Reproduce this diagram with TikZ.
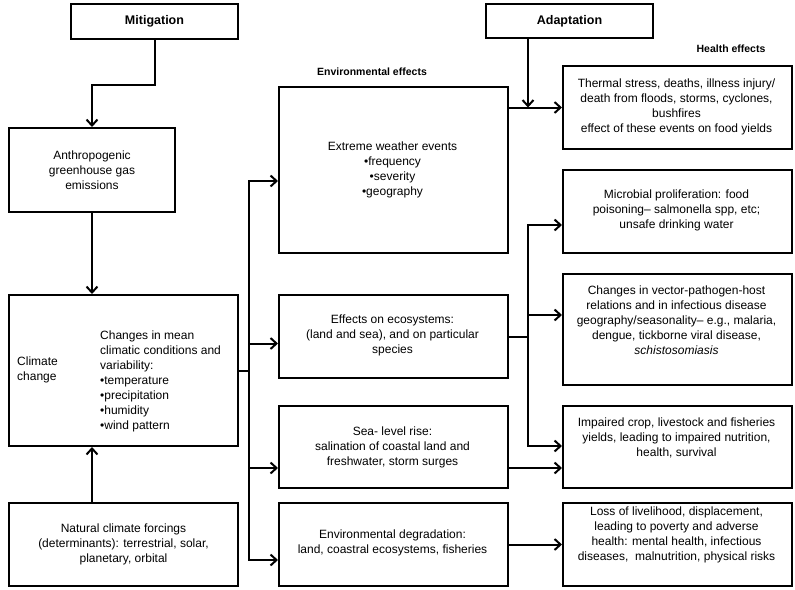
\documentclass[tikz,border=0pt]{standalone}
\usepackage{fontspec}
\setmainfont{Liberation Sans}
\usetikzlibrary{arrows.meta,calc}
\begin{document}
\begin{tikzpicture}[x=1pt,y=-1pt,
  box/.style={draw,line width=2pt,inner sep=0pt,anchor=north west},
  txt/.style={align=center,font=\fontsize{12}{15}\selectfont,inner sep=0pt},
  ltxt/.style={align=left,font=\fontsize{12}{15}\selectfont,inner sep=0pt,anchor=west},
  head/.style={font=\fontsize{10.5}{12}\selectfont\bfseries,inner sep=0pt},
  conn/.style={line width=2pt},
  arr/.style={line width=2pt,-{Straight Barb[length=6pt,width=11pt]}}
]
\useasboundingbox (0,0) rectangle (795,589);
% boxes
\node[box,minimum width=167pt,minimum height=35pt] (mit) at (70,3) {};
\node[box,minimum width=167pt,minimum height=34pt] (ada) at (485,3) {};
\node[box,minimum width=166pt,minimum height=84pt] (anth) at (8,127) {};
\node[box,minimum width=229pt,minimum height=151pt] (clim) at (8,294) {};
\node[box,minimum width=229pt,minimum height=83pt] (nat) at (8,502) {};
\node[box,minimum width=229pt,minimum height=166pt] (ext) at (278,86) {};
\node[box,minimum width=229pt,minimum height=83pt] (eco) at (278,294) {};
\node[box,minimum width=229pt,minimum height=82pt] (sea) at (278,405) {};
\node[box,minimum width=229pt,minimum height=83pt] (degr) at (278,502) {};
\node[box,minimum width=229pt,minimum height=83pt] (th) at (562,65) {};
\node[box,minimum width=229pt,minimum height=83pt] (mic) at (562,169) {};
\node[box,minimum width=229pt,minimum height=111pt] (vec) at (562,273) {};
\node[box,minimum width=229pt,minimum height=82pt] (imp) at (562,405) {};
\node[box,minimum width=229pt,minimum height=83pt] (loss) at (562,502) {};
% texts
\node[font=\fontsize{12.5}{15}\selectfont\bfseries,inner sep=0pt] (mitt) at (mit.center) {Mitigation};
\node[font=\fontsize{12.5}{15}\selectfont\bfseries,inner sep=0pt] (adat) at (ada.center) {Adaptation};
\node[head] (envh) at (372,72) {Environmental effects};
\node[head] (healh) at (731,49) {Health effects};
\node[txt] (antht) at (anth.center) {Anthropogenic\\greenhouse gas\\emissions};
\node[ltxt] (climt1) at (17,370) {Climate\\change};
\node[ltxt] (climt2) at (100,381) {Changes in mean\\climatic conditions and\\variability:\\•temperature\\•precipitation\\•humidity\\•wind pattern};
\node[txt] (natt) at (nat.center) {Natural climate forcings\\(determinants): terrestrial, solar,\\planetary, orbital};
\node[txt] (extt) at (392.5,169.5) {Extreme weather events\\•frequency\\•severity\\•geography};
\node[txt] (ecot) at (392.5,335) {Effects on ecosystems:\\(land and sea), and on particular\\species};
\node[txt] (seat) at (392.5,447) {Sea- level rise:\\salination of coastal land and\\freshwater, storm surges};
\node[txt] (degrt) at (392.5,542.5) {Environmental degradation:\\land, coastral ecosystems, fisheries};
\node[txt] (tht) at (676.5,107) {Thermal stress, deaths, illness injury/\\death from floods, storms, cyclones,\\bushfires\\effect of these events on food yields};
\node[txt] (mict) at (676.5,210) {Microbial proliferation: food\\poisoning-- salmonella spp, etc;\\unsafe drinking water};
\node[txt] (vect) at (676.5,320) {Changes in vector-pathogen-host\\relations and in infectious disease\\geography/seasonality-- e.g., malaria,\\dengue, tickborne viral disease,\\\textit{schistosomiasis}};
\node[txt] (impt) at (676.5,438) {Impaired crop, livestock and fisheries\\yields, leading to impaired nutrition,\\health, survival};
\node[txt] (losst) at (676.5,535) {Loss of livelihood, displacement,\\leading to poverty and adverse\\health: mental health, infectious\\diseases,\ \ malnutrition, physical risks};
% connectors
\draw[arr] (mit.south) -- ++(0,45) -| (anth.north);
\draw[arr] (anth.south) -- (anth.south |- clim.north);
\draw[arr] (anth.south |- nat.north) -- (anth.south |- clim.south);
\coordinate (j1) at ($(clim.east)+(10,0)$);
\draw[conn] (clim.east) -- (j1);
\draw[arr] (j1) |- ([yshift=-11pt]ext.west);
\draw[arr] (j1) |- ([yshift=-7pt]eco.west);
\draw[arr] (j1) |- ([yshift=-21pt]sea.west);
\draw[arr] (j1) |- ([yshift=-15.5pt]degr.west);
\coordinate (jx) at (528,0);
\draw[arr] (th.west -| ext.east) -- (th.west);
\draw[arr] (ada.south -| jx) -- (th.west -| jx);
\draw[conn] (eco.east) -- (eco.east -| jx);
\draw[arr] (eco.east -| jx) |- ([yshift=-13.5pt]mic.west);
\draw[arr] (eco.east -| jx) |- ([yshift=14.5pt]vec.west);
\draw[arr] (eco.east -| jx) |- ([yshift=1pt]imp.west);
\draw[arr] ([yshift=-21pt]sea.east) -- ([yshift=-21pt]imp.west);
\draw[arr] (degr.east) -- (loss.west);
\end{tikzpicture}
\end{document}
